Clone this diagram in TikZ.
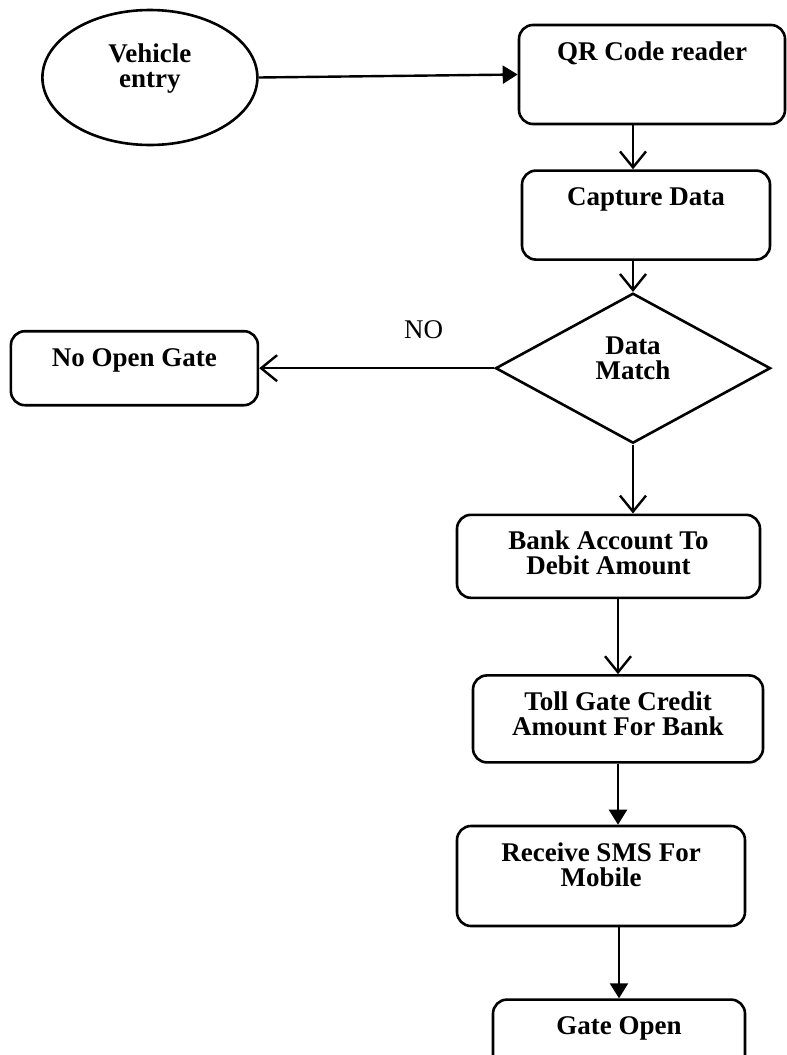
\documentclass[tikz,border=0pt]{standalone}
\usepackage{fontspec}
\setmainfont{Liberation Serif}
\usetikzlibrary{shapes.geometric, arrows.meta, positioning}
\newcommand{\boxfont}{\fontsize{13.5}{12.5}\selectfont\bfseries}
\tikzset{
  box/.style={rectangle, draw, rounded corners=7pt, line width=1.3pt,
              align=center, font=\boxfont, inner sep=0pt, text height=17.5pt},
  twoline/.style={text height=30pt},
  start/.style={ellipse, draw, line width=1.3pt, align=center, font=\boxfont,
                minimum width=107.5pt, minimum height=67.5pt, inner sep=1pt,
                text height=24.5pt, text depth=15pt},
  decision/.style={diamond, draw, line width=1.3pt, align=center, font=\boxfont,
                   minimum width=137.5pt, minimum height=75pt, inner sep=0pt,
                   text depth=10pt},
  arrow/.style={-{Straight Barb[length=8pt,width=13pt]}, line width=1.2pt},
  arrowfill/.style={-{Triangle[length=7.5pt,width=9pt]}, line width=1.2pt},
}
\begin{document}
\begin{tikzpicture}
  \useasboundingbox (0,0) rectangle (393.5pt,-527.5pt);

  % Entry and reader
  \node[box, minimum width=133pt, text depth=32pt] (qr) at (326pt,-37.25pt) {QR Code reader};
  \node[start, left=129.5pt of qr, yshift=-1.5pt] (entry) {Vehicle\\entry};
  \node[box, minimum width=124pt, text depth=27pt, below=22pt of qr, xshift=-3pt] (capture) {Capture Data};

  % Decision
  \node[decision, below=15.5pt of capture, xshift=-6.5pt] (match) {Data\\Match};
  \node[box, minimum width=123.5pt, text depth=19.5pt, left=117.5pt of match] (nogate) {No Open Gate};

  % Payment steps
  \node[box, twoline, minimum width=151.5pt, text depth=11.5pt, below=34.5pt of match, xshift=-12.25pt] (bank) {Bank Account To\\Debit Amount};
  \node[box, twoline, minimum width=145pt, text depth=13.5pt, below=37.5pt of bank, xshift=4.75pt] (toll) {Toll Gate Credit\\Amount For Bank};
  \node[box, twoline, minimum width=144pt, text depth=20pt, below=30.5pt of toll, xshift=-8.5pt] (sms) {Receive SMS For\\Mobile};
  \node[box, minimum width=126pt, text depth=17.5pt, below=35.5pt of sms, xshift=9pt] (gate) {Gate Open};

  % Arrows
  \draw[arrowfill] (entry.east) -- (qr.west);
  \draw[arrow] (qr.south -| match.north) -- (capture.north -| match.north);
  \draw[arrow] (capture.south -| match.north) -- (match.north);
  \draw[arrow] (match.west) -- node[pos=0.3, above=11pt, font=\fontsize{13.5}{12.5}\selectfont] (no) {NO} (nogate.east);
  \draw[arrow] (match.south) -- (bank.north -| match.south);
  \draw[arrow] (bank.south -| toll.north) -- (toll.north);
  \draw[arrowfill] (toll.south) -- (sms.north -| toll.south);
  \draw[arrowfill] (sms.south -| gate.north) -- (gate.north);
\end{tikzpicture}
\end{document}
